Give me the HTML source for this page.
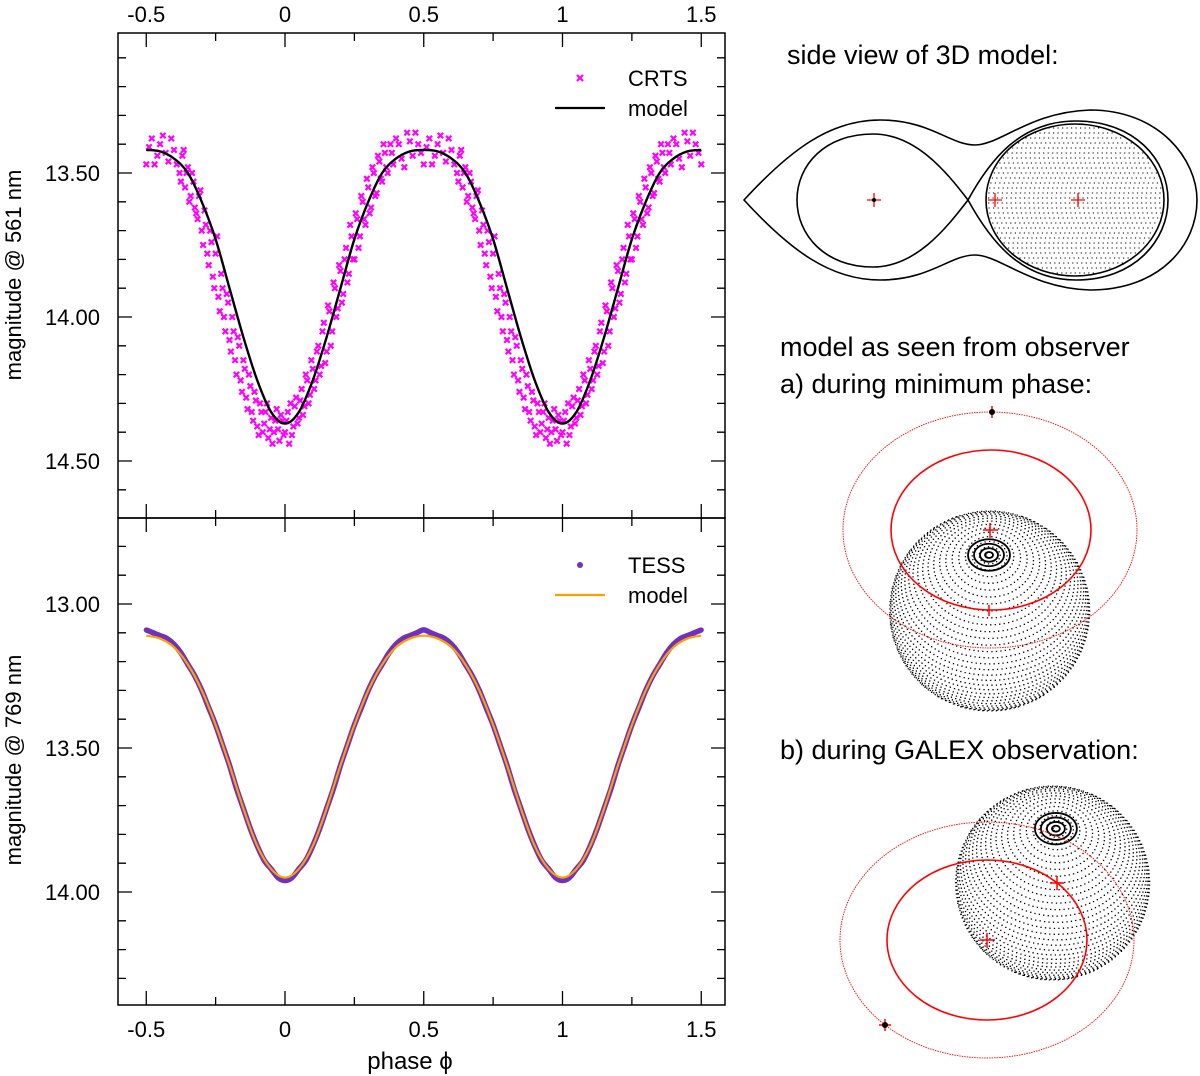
<!DOCTYPE html>
<html><head><meta charset="utf-8"><style>
body{margin:0;background:#fff;}
svg{display:block;font-family:"Liberation Sans",sans-serif;}
</style></head><body>
<svg id="fig" width="1200" height="1076" viewBox="0 0 1200 1076">
<g id="left"></g>
<g id="right">
  <text x="787" y="64" font-size="27">side view of 3D model:</text>
  <text x="780" y="356" font-size="27">model as seen from observer</text>
  <text x="780" y="393" font-size="27">a) during minimum phase:</text>
  <text x="780" y="759" font-size="27">b) during GALEX observation:</text>
  <g fill="none" stroke="#000" stroke-width="1.6">
    <path d="M744,200 C790,150 830,120 880,120 C930,120 950,145 975,145 C1000,145 1030,112 1090,110 C1160,110 1197,160 1197,200 C1197,245 1160,290 1090,290 C1030,288 1000,255 975,255 C950,255 930,280 880,280 C830,280 790,250 744,200 Z"/>
    <path d="M968,200 C945,170 915,134 873,134 C825,134 797,165 797,200 C797,235 825,267 873,267 C915,267 945,230 968,200 Z"/>
    <path d="M968,200 C990,160 1020,121 1076,121 C1135,121 1168,160 1168,200 C1168,240 1135,280 1076,280 C1020,280 990,240 968,200 Z"/>
    <ellipse cx="1075" cy="200" rx="89" ry="76"/>
  </g>
  <g id="sideDots"></g>
  <g stroke="red" stroke-width="1.3">
    <path d="M867,200h14M874,193v14M988,200h14M995,193v14M1071,200h14M1078,193v14"/>
  </g>
  <circle cx="874" cy="200" r="2" fill="#000"/>
  <g id="sphA"></g>
  <g fill="none" stroke="red">
    <ellipse cx="990" cy="530" rx="147" ry="118" stroke-width="0.9" stroke-dasharray="1.5 1"/>
    <ellipse cx="991" cy="530" rx="100" ry="80" stroke-width="1.6"/>
    <path stroke-width="1.5" d="M983,530h15M990,523v15M989,605v11M992,406v12"/>
  </g>
  <circle cx="992" cy="412" r="3" fill="#000"/>
  <g id="sphB"></g>
  <g fill="none" stroke="red">
    <ellipse cx="987" cy="940" rx="147" ry="118" stroke-width="0.9" stroke-dasharray="1.5 1"/>
    <ellipse cx="987" cy="940" rx="100" ry="80" stroke-width="1.6"/>
    <path stroke-width="1.5" d="M980,940h15M987,933v15M1050,883h14M1057,876v14M879,1025h12M885,1019v12"/>
  </g>
  <circle cx="885" cy="1025" r="3" fill="#000"/>
</g>
</svg>
<script>
// ---- data ----
const modelPhaseTop = [0,0.05,0.1,0.15,0.2,0.25,0.3,0.35,0.4,0.45,0.5,0.55,0.6,0.65,0.7,0.75,0.8,0.85,0.9,0.95,1.0];
const modelMagTop = [14.37,14.33,14.22,14.07,13.90,13.73,13.60,13.50,13.45,13.425,13.42,13.425,13.45,13.50,13.60,13.73,13.90,14.07,14.22,14.33,14.37];
const modelMagBottom = [13.95,13.92,13.84,13.71,13.56,13.42,13.30,13.21,13.15,13.12,13.11,13.12,13.15,13.21,13.30,13.42,13.56,13.71,13.84,13.92,13.95];
const crtsPhase = [0.00,0.01,0.015,0.02,0.03,0.04,0.05,0.06,0.07,0.08,0.09,0.10,0.11,0.12,0.13,0.14,0.15,0.16,0.17,0.18,0.19,0.20,0.21,0.22,0.23,0.24,0.25,0.26,0.27,0.28,0.29,0.30,0.31,0.32,0.33,0.34,0.35,0.36,0.37,0.38,0.39,0.40,0.42,0.44,0.46,0.48,0.50,0.52,0.54,0.56,0.58,0.60,0.62,0.63,0.64,0.65,0.66,0.67,0.68,0.69,0.70,0.71,0.72,0.73,0.74,0.75,0.76,0.77,0.78,0.79,0.80,0.81,0.82,0.83,0.84,0.85,0.86,0.87,0.88,0.89,0.90,0.91,0.92,0.93,0.94,0.95,0.96,0.97,0.98,0.99,
0.005,0.025,0.035,0.045,0.055,0.065,0.075,0.085,0.095,0.105,0.115,0.125,0.135,0.145,0.155,0.165,0.175,0.185,0.195,0.205,0.215,0.225,0.235,0.245,0.255,0.265,0.275,0.285,0.295,0.305,0.315,0.325,0.335,0.345,0.355,0.365,0.385,0.41,0.43,0.45,0.47,0.49,0.51,0.53,0.55,0.57,0.59,0.61,0.625,0.635,0.645,0.655,0.665,0.675,0.685,0.695,0.705,0.715,0.725,0.735,0.745,0.755,0.765,0.775,0.785,0.795,0.805,0.815,0.825,0.835,0.845,0.855,0.865,0.875,0.885,0.895,0.905,0.915,0.925,0.935,0.945,0.955,0.965,0.975,0.985,0.995];
const crtsMag = [14.40,14.33,14.44,14.30,14.38,14.28,14.35,14.25,14.31,14.22,14.27,14.18,14.22,14.10,14.17,14.02,14.12,13.98,14.05,13.90,13.97,13.84,13.92,13.76,13.85,13.72,13.80,13.66,13.72,13.60,13.68,13.55,13.62,13.50,13.57,13.46,13.53,13.43,13.50,13.40,13.47,13.38,13.45,13.36,13.44,13.40,13.47,13.38,13.44,13.37,13.46,13.42,13.50,13.44,13.55,13.48,13.58,13.53,13.64,13.58,13.70,13.63,13.78,13.70,13.86,13.78,13.93,13.85,14.00,13.92,14.08,14.00,14.15,14.07,14.22,14.15,14.28,14.20,14.33,14.26,14.38,14.30,14.40,14.33,14.42,14.35,14.40,14.32,14.43,14.36,
14.36,14.41,14.31,14.37,14.29,14.34,14.20,14.30,14.15,14.25,14.12,14.20,14.05,14.16,13.96,14.10,13.88,14.00,13.82,13.95,13.80,13.88,13.68,13.80,13.64,13.76,13.58,13.66,13.52,13.64,13.48,13.58,13.44,13.52,13.40,13.48,13.43,13.40,13.48,13.39,13.36,13.43,13.41,13.47,13.40,13.43,13.38,13.47,13.53,13.42,13.50,13.60,13.50,13.62,13.66,13.56,13.75,13.68,13.82,13.74,13.90,13.72,13.98,13.90,14.05,13.95,14.12,14.05,14.20,14.10,14.26,14.18,14.32,14.24,14.36,14.29,14.41,14.33,14.37,14.30,14.39,14.44,14.36,14.39,14.34,14.41];
const tessPhase = [0,0.025,0.05,0.075,0.1,0.125,0.15,0.175,0.2,0.225,0.25,0.275,0.3,0.325,0.35,0.375,0.4,0.425,0.45,0.475,0.5,0.525,0.55,0.575,0.6,0.625,0.65,0.675,0.7,0.725,0.75,0.775,0.8,0.825,0.85,0.875,0.9,0.925,0.95,0.975];
const tessMag = [13.96,13.95,13.92,13.89,13.84,13.78,13.71,13.64,13.56,13.49,13.42,13.36,13.30,13.25,13.21,13.17,13.14,13.12,13.11,13.10,13.09,13.10,13.11,13.12,13.14,13.17,13.21,13.25,13.30,13.36,13.42,13.49,13.56,13.64,13.71,13.78,13.84,13.89,13.92,13.95];
const xTicks = [-0.5,0,0.5,1,1.5];
const xTickLabels = ["-0.5","0","0.5","1","1.5"];
const topYTicks = [13.5,14.0,14.5];
const topYLabels = ["13.50","14.00","14.50"];
const botYTicks = [13.0,13.5,14.0];
const botYLabels = ["13.00","13.50","14.00"];

const NS="http://www.w3.org/2000/svg";
const L=document.getElementById('left');
function mk(tag,attrs,parent){const e=document.createElementNS(NS,tag);for(const k in attrs)e.setAttribute(k,attrs[k]);(parent||L).appendChild(e);return e;}
const X0=118,X1=725;
const xs=p=>285+(p)*277.5;
const ysTop=m=>173+(m-13.5)*288;
const ysBot=m=>604+(m-13.0)*288;

let f=mk('rect',{x:X0,y:33,width:X1-X0,height:485,fill:'none',stroke:'#000','stroke-width':1.5});


f=mk('rect',{x:X0,y:518,width:X1-X0,height:487,fill:'none',stroke:'#000','stroke-width':1.5});



let tp='';
for(let p=-0.5;p<=1.501;p+=0.25){const x=xs(p);const big=Math.abs(p*2-Math.round(p*2))<1e-6;const len=big?14:8;
 tp+=`M${x},33v${len}M${x},518v${-len}M${x},518v${len}M${x},1005v${-len}`;}
for(let m=13.1;m<=14.65;m+=0.1){const y=ysTop(m);if(y<=33||y>=518)continue;const big=Math.abs(m*2-Math.round(m*2))<1e-6;const len=big?14:8;tp+=`M${X0},${y}h${len}M${X1},${y}h${-len}`;}
for(let m=12.8;m<=14.35;m+=0.1){const y=ysBot(m);if(y<=518||y>=1005)continue;const big=Math.abs(m*2-Math.round(m*2))<1e-6;const len=big?14:8;tp+=`M${X0},${y}h${len}M${X1},${y}h${-len}`;}
let t=mk('path',{d:tp,stroke:'#000','stroke-width':1.3,fill:'none'});



xTicks.forEach((v,i)=>{
 let a=mk('text',{x:xs(v),y:22,'font-size':22,'text-anchor':'middle'});a.textContent=xTickLabels[i];
 
 
 let b=mk('text',{x:xs(v),y:1037,'font-size':22,'text-anchor':'middle'});b.textContent=xTickLabels[i];
 
 
});
topYTicks.forEach((v,i)=>{let a=mk('text',{x:100,y:ysTop(v)+8,'font-size':22,'text-anchor':'end'});a.textContent=topYLabels[i];
 
 });
botYTicks.forEach((v,i)=>{let a=mk('text',{x:100,y:ysBot(v)+8,'font-size':22,'text-anchor':'end'});a.textContent=botYLabels[i];
 
 });
let tt=mk('text',{x:0,y:0,'font-size':22,'text-anchor':'middle',transform:'translate(21,275) rotate(-90)'});tt.textContent='magnitude @ 561 nm';


tt=mk('text',{x:0,y:0,'font-size':22,'text-anchor':'middle',transform:'translate(21,760) rotate(-90)'});tt.textContent='magnitude @ 769 nm';


tt=mk('text',{x:410,y:1069,'font-size':24,'text-anchor':'middle'});tt.textContent='phase \u03d5';



function copies(p){const r=[];for(const o of [-1,0,1]){const q=p+o;if(q>=-0.5&&q<=1.5)r.push(q);}return r;}

crtsPhase.forEach((p,i)=>{copies(p).forEach(q=>{const x=xs(q),y=ysTop(crtsMag[i]);
 const c=mk('path',{d:`M${x-2.7},${y-2.7}L${x+2.7},${y+2.7}M${x-2.7},${y+2.7}L${x+2.7},${y-2.7}`,stroke:'#ff00ff','stroke-width':2.2});
 
 });});

function smoothPts(pts){
 let d=`M${pts[0][0]},${pts[0][1]}`;
 for(let i=0;i<pts.length-1;i++){const p0=pts[Math.max(0,i-1)],p1=pts[i],p2=pts[i+1],p3=pts[Math.min(pts.length-1,i+2)];
  d+=`C${p1[0]+(p2[0]-p0[0])/6},${p1[1]+(p2[1]-p0[1])/6} ${p2[0]-(p3[0]-p1[0])/6},${p2[1]-(p3[1]-p1[1])/6} ${p2[0]},${p2[1]}`;}
 return d;}
function smooth(phases,arr,ys){
 const pts=[];for(const o of [-1,0,1])phases.forEach((p,i)=>{const q=p+o;if(q<-0.5-1e-9||q>1.5+1e-9)return;pts.push([xs(q),ys(arr[i]),q]);});
 pts.sort((a,b)=>a[2]-b[2]);
 const u=[];pts.forEach(p=>{if(!u.length||Math.abs(u[u.length-1][2]-p[2])>1e-9)u.push(p);});
 return smoothPts(u);}
let ml=mk('path',{d:smooth(modelPhaseTop,modelMagTop,ysTop),fill:'none',stroke:'#000','stroke-width':2.4});



let tl=mk('path',{d:smooth(tessPhase,tessMag,ysBot),fill:'none',stroke:'#7030c0','stroke-width':5.5,'stroke-linejoin':'round'});


tessPhase.forEach((p,i)=>{copies(p).forEach(q=>{const c=mk('circle',{cx:xs(q),cy:ysBot(tessMag[i]),r:2.6,fill:'#7030c0'});
 
 });});
ml=mk('path',{d:smooth(modelPhaseTop,modelMagBottom,ysBot),fill:'none',stroke:'#ffa000','stroke-width':2.2});



let lg=mk('g',{});
mk('path',{d:'M577,75l6,6M577,81l6,-6',stroke:'#ff00ff','stroke-width':2.2},lg);
let lt=mk('text',{x:628,y:86,'font-size':22},lg);lt.textContent='CRTS';
mk('path',{d:'M555,108h50',stroke:'#000','stroke-width':2.2},lg);
lt=mk('text',{x:628,y:116,'font-size':22},lg);lt.textContent='model';
lg=mk('g',{});
mk('circle',{cx:580,cy:565,r:3,fill:'#7030c0'},lg);
lt=mk('text',{x:628,y:573,'font-size':22},lg);lt.textContent='TESS';
mk('path',{d:'M555,595h50',stroke:'#ffa000','stroke-width':2.2},lg);
lt=mk('text',{x:628,y:603,'font-size':22},lg);lt.textContent='model';

function sphere(gid,cx,cy,r,px,py){
 const g=document.getElementById(gid);
 const pz=Math.sqrt(Math.max(0,1-px*px-py*py));
 const P=[px,py,pz];
 let U=[1,0,0];let d=U[0]*P[0]+U[1]*P[1]+U[2]*P[2];U=[U[0]-d*P[0],U[1]-d*P[1],U[2]-d*P[2]];let n=Math.hypot(...U);U=U.map(v=>v/n);
 const V=[P[1]*U[2]-P[2]*U[1],P[2]*U[0]-P[0]*U[2],P[0]*U[1]-P[1]*U[0]];
 let s='';
 for(let lat=88;lat>-90;lat-=4){const cl=Math.cos(lat*Math.PI/180),sl=Math.sin(lat*Math.PI/180);
  const nlon=Math.max(8,Math.round(2*Math.PI*r*cl/4.5));
  for(let k=0;k<nlon;k++){const lo=2*Math.PI*k/nlon;
   const v=[0,1,2].map(j=>P[j]*sl+cl*(Math.cos(lo)*U[j]+Math.sin(lo)*V[j]));
   if(v[2]<0)continue;s+=`M${(cx+r*v[0]).toFixed(1)},${(cy-r*v[1]).toFixed(1)}h1.3`;}}
 const p=document.createElementNS(NS,'path');p.setAttribute('d',s);p.setAttribute('stroke','#000');p.setAttribute('stroke-width','1.3');g.appendChild(p);
 const rings=document.createElementNS(NS,'g');
 [4,9,15,21].forEach(rr=>{const e=document.createElementNS(NS,'ellipse');e.setAttribute('cx',cx+r*px);e.setAttribute('cy',cy-r*py);e.setAttribute('rx',rr);e.setAttribute('ry',rr*0.75);e.setAttribute('fill','none');e.setAttribute('stroke','#000');e.setAttribute('stroke-width','1.8');rings.appendChild(e);});
 g.appendChild(rings);
}
sphere('sphA',989,611,100,0,0.56);
sphere('sphB',1052,883,97,0.04,0.56);
(function(){const g=document.getElementById('sideDots');let s='';
 for(let y=128;y<=273;y+=5){const dy=(y-200)/76;if(Math.abs(dy)>=1)continue;const hw=89*Math.sqrt(1-dy*dy)-2;
  for(let x=1075-hw;x<=1075+hw;x+=4.5)s+=`M${x.toFixed(1)},${y}h1.2`;}
 const p=document.createElementNS(NS,'path');p.setAttribute('d',s);p.setAttribute('stroke','#000');p.setAttribute('stroke-width','1.1');g.appendChild(p);})();
</script>
</body></html>
